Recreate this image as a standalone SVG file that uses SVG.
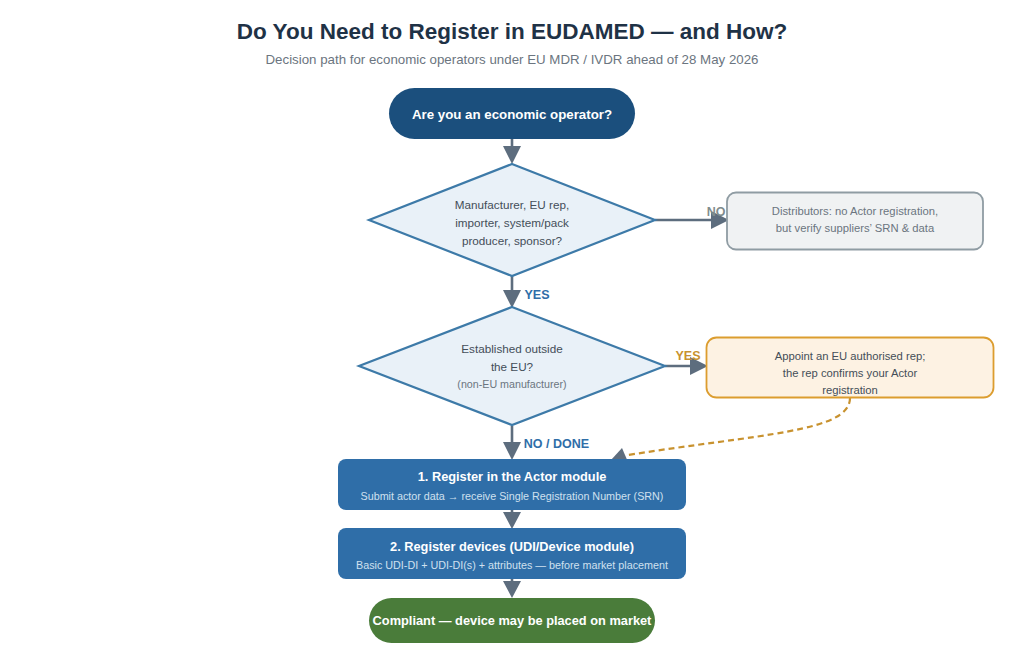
<svg xmlns="http://www.w3.org/2000/svg" width="1024" height="655" viewBox="0 0 1024 655">
<style>
text{font-family:"Liberation Sans",Arial,sans-serif;text-anchor:middle}
.d{fill:#e9f1f8;stroke:#3d7aa8;stroke-width:2.2}
.t{font-size:11.7px;fill:#444e58}
.n{font-size:11.25px;fill:#444e58}
.g{font-size:11.25px;fill:#6b7580}
.w{font-size:12.8px;font-weight:700;fill:#fff}
.s{font-size:10.75px;fill:#cfe0ef}
.b{fill:#2f6ea8}
.c{fill:none;stroke:#5d6d7e;stroke-width:2.6}
.a{fill:#5d6d7e}
.l{font-size:12.5px;font-weight:700}
</style>
<rect width="1024" height="655" fill="#fff"/>
<text x="512" y="39" font-size="22.5" font-weight="700" fill="#1f3246">Do You Need to Register in EUDAMED — and How?</text>
<text x="512" y="64" font-size="13.3" fill="#6b7580">Decision path for economic operators under EU MDR / IVDR ahead of 28 May 2026</text>
<g id="connectors">
<path class="c" d="M512 139V146M512 276V292M655 220H712M512 426V442M665 366H691M512 510V512M512 579V582"/>
<path class="a" d="M503 146H521L512 164ZM503 290H521L512 308ZM711 211V229L729 220ZM503 442H521L512 460ZM690 357V375L708 366ZM503 512H521L512 529ZM503 581H521L512 598Z"/>
<path d="M850 398C850 432 760 434 628 455" fill="none" stroke="#c8922f" stroke-width="2.2" stroke-dasharray="6 4"/>
<path class="a" d="M622 448L628 462L611 460Z"/>
</g>
<g id="start"><rect x="389" y="88" width="246" height="51" rx="25.5" fill="#1b4f7d"/><text class="w" x="512" y="119" style="font-size:13.3px">Are you an economic operator?</text></g>
<g id="q1"><path class="d" d="M512 164L655 220L512 276L369 220Z"/>
<text class="t" x="512" y="209">Manufacturer, EU rep,</text><text class="t" x="512" y="227">importer, system/pack</text><text class="t" x="512" y="245">producer, sponsor?</text></g>
<g id="distributors"><rect x="727" y="192.500" width="256" height="57" rx="9" fill="#f0f2f3" stroke="#8f9ca3" stroke-width="1.800"/>
<text class="g" x="855" y="215">Distributors: no Actor registration,</text><text class="g" x="855" y="232">but verify suppliers’ SRN &amp; data</text></g>
<text id="label-no" class="l" x="716" y="216" style="fill:#7f8c8d">NO</text>
<text id="label-yes1" class="l" x="537" y="299" style="fill:#2f6ea8">YES</text>
<g id="q2"><path class="d" d="M512 307L665 366L512 425L359 366Z"/>
<text class="t" x="512" y="353">Established outside</text><text class="t" x="512" y="371">the EU?</text><text x="512" y="388" font-size="10.7" fill="#6b7580">(non-EU manufacturer)</text></g>
<g id="rep"><rect x="706.500" y="337.500" width="287" height="60" rx="10" fill="#fdf2e3" stroke="#dc9d2f" stroke-width="1.800"/>
<text class="n" x="850" y="360">Appoint an EU authorised rep;</text><text class="n" x="850" y="377">the rep confirms your Actor</text><text class="n" x="850" y="394">registration</text></g>
<text id="label-yes2" class="l" x="688" y="360" style="fill:#c8922f">YES</text>
<text id="label-nodone" class="l" x="556.500" y="448" style="fill:#2f6ea8">NO / DONE</text>
<g id="step1"><rect class="b" x="338" y="459" width="348" height="51" rx="8"/><text class="w" x="512" y="481">1. Register in the Actor module</text><text class="s" x="512" y="500">Submit actor data → receive Single Registration Number (SRN)</text></g>
<g id="step2"><rect class="b" x="338" y="528" width="348" height="51" rx="8"/><text class="w" x="512" y="551">2. Register devices (UDI/Device module)</text><text class="s" x="512" y="569">Basic UDI-DI + UDI-DI(s) + attributes — before market placement</text></g>
<g id="end"><rect x="369" y="598" width="286" height="45" rx="22.500" fill="#4a7c3a"/><text class="w" x="512" y="625">Compliant — device may be placed on market</text></g>
</svg>
